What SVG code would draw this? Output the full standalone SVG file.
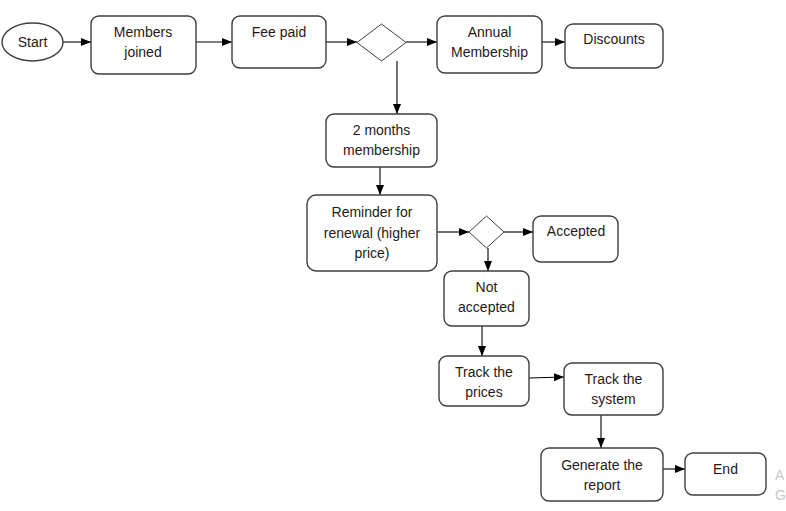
<svg xmlns="http://www.w3.org/2000/svg" width="786" height="511" viewBox="0 0 786 511">
<style>
.box{fill:#fff;stroke:#3f3f3f;stroke-width:1.4}
.dia{fill:#fff;stroke:#3f3f3f;stroke-width:1}
.lbl{font-family:"Liberation Sans",Arial,sans-serif;font-size:14px;fill:#1f1a17;text-anchor:middle}
.con{fill:none;stroke:#000;stroke-width:1.1;marker-end:url(#ah)}
.wm{font-family:"Liberation Sans",Arial,sans-serif;font-size:14px;fill:#c8c8c8}
</style>
<defs>
<marker id="ah" markerUnits="userSpaceOnUse" markerWidth="10" markerHeight="10" viewBox="0 0 10 10" refX="10" refY="5" orient="auto">
<path d="M0,1 L10,5 L0,9 Z" fill="#000"/>
</marker>
</defs>
<rect width="786" height="511" fill="#fff"/>
<g id="connectors">
<line class="con" x1="63" y1="42" x2="91" y2="42"/>
<line class="con" x1="196" y1="42" x2="232" y2="42"/>
<line class="con" x1="326" y1="42" x2="357" y2="42"/>
<line class="con" x1="406" y1="42" x2="437" y2="42"/>
<line class="con" x1="542" y1="42" x2="565" y2="42"/>
<line class="con" x1="397" y1="61" x2="397" y2="114"/>
<line class="con" x1="380" y1="167" x2="380" y2="195"/>
<line class="con" x1="437" y1="232" x2="469" y2="232"/>
<line class="con" x1="504" y1="232" x2="533" y2="232"/>
<line class="con" x1="488" y1="248" x2="488" y2="271"/>
<line class="con" x1="482" y1="326" x2="482" y2="356"/>
<line class="con" x1="529" y1="378" x2="564" y2="377"/>
<line class="con" x1="601" y1="415" x2="601" y2="448"/>
<line class="con" x1="663" y1="469" x2="685" y2="469"/>
</g>
<g id="start"><ellipse class="box" cx="32.5" cy="42" rx="30.5" ry="19"/><text class="lbl" x="32.5" y="47">Start</text></g>
<g id="members-joined"><rect class="box" x="91" y="16" width="105" height="58" rx="8"/><text class="lbl" x="143" y="37">Members</text><text class="lbl" x="143" y="57">joined</text></g>
<g id="fee-paid"><rect class="box" x="232" y="16" width="94" height="52" rx="8"/><text class="lbl" x="279" y="37">Fee paid</text></g>
<g id="decision1"><polygon class="dia" points="357,42.5 381.5,24 406,42.5 381.5,61"/></g>
<g id="annual-membership"><rect class="box" x="437" y="16" width="105" height="57" rx="8"/><text class="lbl" x="489.5" y="37">Annual</text><text class="lbl" x="489.5" y="57">Membership</text></g>
<g id="discounts"><rect class="box" x="565" y="24" width="98" height="44" rx="8"/><text class="lbl" x="614" y="44">Discounts</text></g>
<g id="two-months"><rect class="box" x="326" y="114" width="111" height="53" rx="8"/><text class="lbl" x="381.5" y="135">2 months</text><text class="lbl" x="381.5" y="155">membership</text></g>
<g id="reminder"><rect class="box" x="307" y="195" width="130" height="76" rx="9"/><text class="lbl" x="372" y="217">Reminder for</text><text class="lbl" x="372" y="238">renewal (higher</text><text class="lbl" x="372" y="258">price)</text></g>
<g id="decision2"><polygon class="dia" points="469,232 486.5,216 504,232 486.5,248"/></g>
<g id="accepted"><rect class="box" x="533" y="216" width="85" height="46" rx="8"/><text class="lbl" x="576" y="236">Accepted</text></g>
<g id="not-accepted"><rect class="box" x="444" y="271" width="85" height="55" rx="8"/><text class="lbl" x="486.5" y="292">Not</text><text class="lbl" x="486.5" y="312">accepted</text></g>
<g id="track-prices"><rect class="box" x="439" y="356" width="90" height="50" rx="8"/><text class="lbl" x="484" y="377">Track the</text><text class="lbl" x="484" y="397">prices</text></g>
<g id="track-system"><rect class="box" x="564" y="363" width="99" height="52" rx="8"/><text class="lbl" x="613.5" y="384">Track the</text><text class="lbl" x="613.5" y="404">system</text></g>
<g id="generate-report"><rect class="box" x="541" y="448" width="122" height="53" rx="8"/><text class="lbl" x="602" y="470">Generate the</text><text class="lbl" x="602" y="490">report</text></g>
<g id="end"><rect class="box" x="685" y="453" width="81" height="42" rx="8"/><text class="lbl" x="725.5" y="474">End</text></g>
<text class="wm" x="775" y="480">A</text>
<text class="wm" x="775" y="500">G</text>
</svg>
